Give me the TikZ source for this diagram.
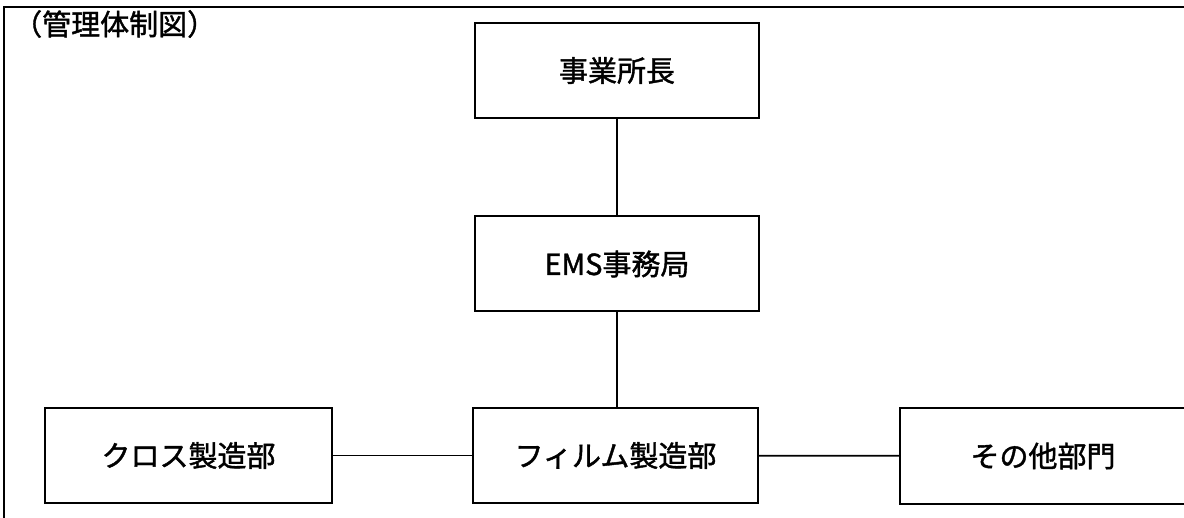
\documentclass[tikz,border=0pt]{standalone}
\usepackage{fontspec}
\setmainfont{Noto Sans CJK JP}
\newfontfamily\jpfont[FakeBold=1.4]{Noto Sans CJK JP}
\begin{document}
\begin{tikzpicture}[x=1pt,y=-1pt,
  orgbox/.style={draw,line width=2pt,minimum width=284pt,minimum height=95pt,inner sep=0pt,font=\jpfont\fontsize{29}{31}\selectfont,anchor=center},
  link/.style={line width=1.8pt},
  frame/.style={line width=2.5pt}]
\useasboundingbox (0,0) rectangle (1184,518);
\coordinate (ftl) at (4,7);
\coordinate (ftr) at (1190,7);
\coordinate (fbl) at (4,525);
\draw[frame] (ftr) -- (ftl) -- (fbl);
\node[font=\jpfont\fontsize{29}{31}\selectfont,anchor=west,inner sep=0pt] (title) at (13,24) {（管理体制図）};
\node[orgbox] (chief) at (617,70.5) {事業所長};
\node[orgbox] (ems) at (617,264) {EMS事務局};
\node[orgbox,minimum width=287pt] (cross) at (188.5,455.5) {クロス製造部};
\node[orgbox,minimum width=285pt] (film) at (615.5,455.5) {フィルム製造部};
\node[orgbox,minimum width=286pt] (other) at (1043,456) {その他部門};
\draw[link] (chief) -- (ems);
\draw[link] (ems.south) -- (ems.south |- film.north);
\draw[link] (cross) -- (film);
\draw[link] (film) -- (other);
\end{tikzpicture}
\end{document}
